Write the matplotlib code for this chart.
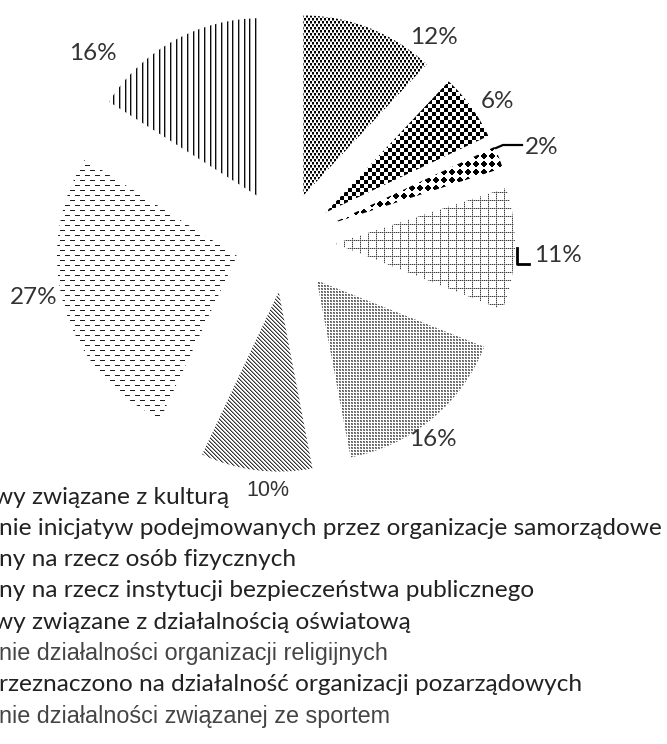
import numpy as np
import matplotlib
matplotlib.use("Agg")
import matplotlib.pyplot as plt

# slice shares in %, clockwise from 12 o'clock
shares = [12, 6, 2, 11, 16, 10, 27, 16]

# legend lines (left part is cut off in the original picture)
legend_labels = [
    "wy związane z kulturą",
    "nie inicjatyw podejmowanych przez organizacje samorządowe",
    "ny na rzecz osób fizycznych",
    "ny na rzecz instytucji bezpieczeństwa publicznego",
    "wy związane z działalnością oświatową",
    "nie działalności organizacji religijnych",
    "rzeznaczono na działalność organizacji pozarządowych",
    "nie działalności związanej ze sportem",
]

W, H = 667, 744


def tile_img(tile):
    tile = np.asarray(tile, dtype=float)
    reps = (H // tile.shape[0] + 1, W // tile.shape[1] + 1)
    g = np.tile(tile, reps)[:H, :W]
    return np.dstack([g, g, g])


def pat_dots():
    t = np.ones((6, 4))
    t[0:2, 0:2] = 0.0
    t[3:5, 2:4] = 0.0
    t[2, 0:2] = 0.5
    t[5, 2:4] = 0.5
    return t


def pat_checker():
    r, c = np.mgrid[0:8, 0:8]
    return np.where(((r // 4) + (c // 4)) % 2 == 0, 0.0, 1.0)


def pat_diamonds():
    r, c = np.mgrid[0:8, 0:8]
    return np.where(np.abs(r - 3.5) + np.abs(c - 3.5) <= 3.2, 0.0, 1.0)


def pat_grid():
    t = np.ones((8, 8))
    t[0, :] = [0.25, 0.7] * 4
    t[:, 0] = [0.25, 0.7] * 4
    return t


def pat_fine():
    return np.array([[0.35, 0.55, 1.0],
                     [0.55, 0.40, 1.0],
                     [1.0, 1.0, 1.0]])


def pat_diag():
    r, c = np.mgrid[0:4, 0:4]
    d = (c - r) % 4
    return np.select([d == 0, d == 1], [0.2, 0.6], 1.0)


def pat_dashes():
    t = np.ones((10, 10))
    t[0, 0:5] = 0.12
    t[5, 5:10] = 0.12
    return t


def pat_vlines():
    t = np.ones((1, 17))
    for c in (0, 6, 11):
        t[0, c] = 0.05
        t[0, c + 1] = 0.65
    return t


patterns = [pat_dots(), pat_checker(), pat_diamonds(), pat_grid(),
            pat_fine(), pat_diag(), pat_dashes(), pat_vlines()]

fig = plt.figure(figsize=(W / 100, H / 100), dpi=100)
ax = fig.add_axes([0, 0, 1, 1])

wedges, _ = ax.pie(shares, startangle=90, counterclock=False, radius=180,
                   center=(285, H - 242), explode=[50] * len(shares), frame=True,
                   wedgeprops=dict(facecolor="none", edgecolor="none"))

for w, p in zip(wedges, patterns):
    im = ax.imshow(tile_img(p), extent=(0, W, 0, H), origin="upper",
                   interpolation="nearest", zorder=1)
    im.set_clip_path(w)


def Y(y):
    return H - y


# percent labels (positions, y from top)
label_pos = [(434, 37), (497, 101), (542, 148), (558, 256),
             (433, 440), (268, 491), (34, 298), (93, 54)]
label_font = ["Lato"] * 5 + ["Liberation Sans"] + ["Lato"] * 2
for v, (x, y), f in zip(shares, label_pos, label_font):
    ax.text(x, Y(y), f"{v}%", ha="center", va="center",
            fontsize=15.5 if f == "Liberation Sans" else 17.5,
            family=f, color="#333333", zorder=3)

# leader lines for the two thin slices
ax.plot([496, 503, 522], [Y(148), Y(145), Y(145)], color="black", lw=1.6, zorder=3)
ax.plot([517, 517, 529], [Y(248), Y(264), Y(264)], color="black", lw=2, zorder=3)

# legend text
leg_x = [-6, -1, -1, -1, -6, -1, -1, -1]
leg_y0, leg_dy = 497, 31.3
for i, (txt, x) in enumerate(zip(legend_labels, leg_x)):
    arial = i in (5, 7)
    ax.text(x, Y(leg_y0 + i * leg_dy), txt, ha="left", va="center",
            fontsize=16.8 if arial else 17.6,
            family="Liberation Sans" if arial else "Lato",
            color="#444444" if arial else "#222222", zorder=3)

ax.set_xlim(0, W)
ax.set_ylim(0, H)
ax.set_aspect("auto")
ax.axis("off")

fig.savefig("out.png", dpi=100)
